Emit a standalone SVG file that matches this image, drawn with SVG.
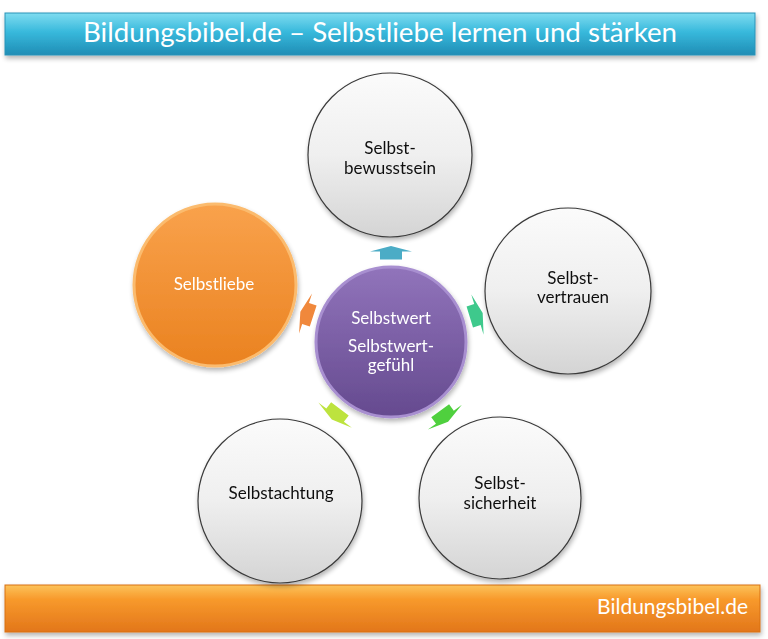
<svg xmlns="http://www.w3.org/2000/svg" width="768" height="639" viewBox="0 0 768 639">
<defs>
<linearGradient id="gHead" x1="0" y1="0" x2="0" y2="1">
<stop offset="0" stop-color="#7fdcf0"/><stop offset="0.45" stop-color="#38b9dc"/><stop offset="1" stop-color="#1f8db5"/>
</linearGradient>
<linearGradient id="gFoot" x1="0" y1="0" x2="0" y2="1">
<stop offset="0" stop-color="#fcc35a"/><stop offset="0.3" stop-color="#f89a2c"/><stop offset="1" stop-color="#e2761a"/>
</linearGradient>
<linearGradient id="gGray" x1="0" y1="0" x2="0" y2="1">
<stop offset="0" stop-color="#fbfbfb"/><stop offset="0.5" stop-color="#efefef"/><stop offset="1" stop-color="#d4d4d4"/>
</linearGradient>
<linearGradient id="gOrange" x1="0" y1="0" x2="0" y2="1">
<stop offset="0" stop-color="#f9a24c"/><stop offset="1" stop-color="#ea8220"/>
</linearGradient>
<linearGradient id="gPurple" x1="0" y1="0" x2="0" y2="1">
<stop offset="0" stop-color="#9174bb"/><stop offset="1" stop-color="#654a8f"/>
</linearGradient>
<filter id="sh" x="-20%" y="-20%" width="140%" height="140%">
<feGaussianBlur in="SourceAlpha" stdDeviation="2.5"/>
<feOffset dx="1" dy="3" result="b"/>
<feComponentTransfer><feFuncA type="linear" slope="0.3"/></feComponentTransfer>
<feMerge><feMergeNode/><feMergeNode in="SourceGraphic"/></feMerge>
</filter>
<polygon id="arr" points="0,-7 21,-1.5 11,-1.5 11,6.5 -11,6.5 -11,-1.5 -21,-1.5"/>
</defs>
<style>
.t{font-family:Lato,"Open Sans","Liberation Sans",sans-serif;font-size:17px;text-anchor:middle;fill:#111}
.w{fill:#ffffff}
.gray{fill:url(#gGray);stroke:#3a3a3a;stroke-width:1.2}
</style>
<rect width="768" height="639" fill="#ffffff"/>
<g id="header">
<rect x="5" y="13" width="750" height="42" fill="url(#gHead)" stroke="#2a93b8" stroke-width="1" filter="url(#sh)"/>
<text x="380" y="42" class="t w" style="font-size:27px" textLength="594" lengthAdjust="spacingAndGlyphs">Bildungsbibel.de – Selbstliebe lernen und stärken</text>
</g>
<g id="footer">
<rect x="5" y="585" width="755" height="47" fill="url(#gFoot)" stroke="#d87012" stroke-width="1" filter="url(#sh)"/>
<text x="748" y="614" class="t w" style="font-size:21px;text-anchor:end">Bildungsbibel.de</text>
</g>
<g id="connectors">
<use href="#arr" transform="translate(391,253)" fill="#4bacc6"/>
<use href="#arr" transform="translate(476,315) rotate(73)" fill="#3ec98c"/>
<use href="#arr" transform="translate(444,416) rotate(144)" fill="#4fd03e"/>
<use href="#arr" transform="translate(336,414) rotate(217)" fill="#bde33e"/>
<use href="#arr" transform="translate(307,314) rotate(288)" fill="#f0883c"/>
</g>
<g id="n-bewusstsein" filter="url(#sh)">
<circle cx="390" cy="155" r="82" class="gray"/>
<text x="390" y="154" class="t">Selbst-</text>
<text x="390" y="174" class="t">bewusstsein</text>
</g>
<g id="n-vertrauen" filter="url(#sh)">
<circle cx="568" cy="291" r="83" class="gray"/>
<text x="573" y="284" class="t">Selbst-</text>
<text x="573" y="303" class="t">vertrauen</text>
</g>
<g id="n-sicherheit" filter="url(#sh)">
<circle cx="500" cy="498" r="81" class="gray"/>
<text x="500" y="489" class="t">Selbst-</text>
<text x="500" y="509" class="t">sicherheit</text>
</g>
<g id="n-selbstachtung" filter="url(#sh)">
<circle cx="280" cy="501" r="82" class="gray"/>
<text x="281" y="499" class="t">Selbstachtung</text>
</g>
<g id="n-selbstliebe" filter="url(#sh)">
<circle cx="215" cy="285" r="81" fill="url(#gOrange)" stroke="#fbbb6e" stroke-width="3"/>
<text x="214" y="290" class="t w">Selbstliebe</text>
</g>
<g id="n-selbstwert" filter="url(#sh)">
<circle cx="391" cy="342" r="75" fill="url(#gPurple)" stroke="#a88fd0" stroke-width="3"/>
<text x="391" y="324" class="t w">Selbstwert</text>
<text x="391" y="352" class="t w">Selbstwert-</text>
<text x="391" y="371" class="t w">gefühl</text>
</g>
</svg>
